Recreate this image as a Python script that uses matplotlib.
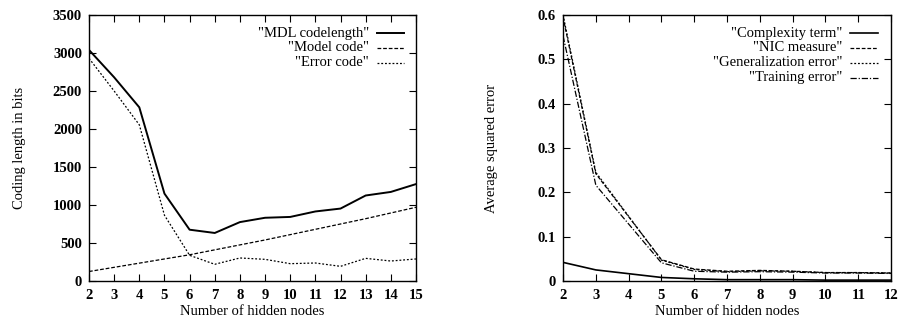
import matplotlib
matplotlib.use("Agg")
import matplotlib.pyplot as plt
from matplotlib.lines import Line2D

plt.rcParams['font.family'] = ['Liberation Serif', 'DejaVu Serif']
plt.rcParams['font.size'] = 10.5

# Left panel data
nodes_left = [2, 3, 4, 5, 6, 7, 8, 9, 10, 11, 12, 13, 14, 15]
mdl_codelength = [3040, 2680, 2285, 1150, 675, 632, 775, 832, 843, 915, 953, 1125, 1172, 1275]
model_code = [125, 180, 235, 290, 345, 410, 475, 540, 610, 680, 750, 820, 895, 970]
error_code = [2930, 2500, 2055, 865, 338, 220, 303, 285, 228, 237, 193, 298, 263, 290]

# Right panel data
nodes_right = [2, 3, 5, 6, 7, 8, 9, 10, 11, 12]
complexity_term = [0.042, 0.025, 0.008, 0.005, 0.003, 0.003, 0.003, 0.002, 0.002, 0.002]
nic_measure = [0.595, 0.242, 0.048, 0.027, 0.022, 0.024, 0.022, 0.019, 0.019, 0.018]
generalization_error = [0.600, 0.245, 0.047, 0.026, 0.021, 0.023, 0.022, 0.019, 0.019, 0.018]
training_error = [0.553, 0.216, 0.041, 0.022, 0.020, 0.021, 0.020, 0.018, 0.018, 0.017]

fig = plt.figure(figsize=(8.99, 3.21), dpi=100)
ax1 = fig.add_axes([0.099, 0.1246, 0.3637, 0.8287])
ax2 = fig.add_axes([0.6263, 0.1246, 0.3649, 0.8287])

styles_left = [
    ("\"MDL codelength\"", mdl_codelength, dict(ls='-', lw=1.4)),
    ("\"Model code\"", model_code, dict(ls=(0, (3, 1.5)), lw=0.9)),
    ("\"Error code\"", error_code, dict(ls=(0, (1.5, 1.5)), lw=0.9)),
]
styles_right = [
    ("\"Complexity term\"", complexity_term, dict(ls='-', lw=1.2)),
    ("\"NIC measure\"", nic_measure, dict(ls=(0, (3, 1.5)), lw=0.9)),
    ("\"Generalization error\"", generalization_error, dict(ls=(0, (1.5, 1.5)), lw=0.9)),
    ("\"Training error\"", training_error, dict(ls=(0, (5, 1.5, 1, 1.5)), lw=0.9)),
]

def draw(ax, x, styles, tx, lx0, lx1, rows):
    for (label, y, st), ry in zip(styles, rows):
        ax.plot(x, y, color='black', **st)
        ax.text(tx, ry, label, transform=ax.transAxes, ha='right', va='center', fontsize=10.5)
        ax.add_line(Line2D([lx0, lx1], [ry, ry], transform=ax.transAxes, color='black', **st))

draw(ax1, nodes_left, styles_left, 0.856, 0.881, 0.963, [0.932, 0.876, 0.820])
draw(ax2, nodes_right, styles_right, 0.851, 0.875, 0.960, [0.932, 0.876, 0.820, 0.764])

ax1.set_xlim(2, 15)
ax1.set_ylim(0, 3500)
ax1.set_xticks(range(2, 16))
ax1.set_yticks(range(0, 3501, 500))
ax1.set_xlabel("Number of hidden nodes", labelpad=2)
ax1.set_ylabel("Coding length in bits", labelpad=19)

ax2.set_xlim(2, 12)
ax2.set_ylim(0, 0.6)
ax2.set_xticks(range(2, 13))
ax2.set_yticks([0, 0.1, 0.2, 0.3, 0.4, 0.5, 0.6])
ax2.set_yticklabels(['0', '0.1', '0.2', '0.3', '0.4', '0.5', '0.6'])
ax2.set_xlabel("Number of hidden nodes", labelpad=2)
ax2.set_ylabel("Average squared error", labelpad=29)

for ax in (ax1, ax2):
    ax.tick_params(direction='in', top=True, right=True, length=5, width=0.8,
                   labelsize=10.5)
    ax.tick_params(axis='x', pad=6)
    ax.tick_params(axis='y', pad=5)
    for s in ax.spines.values():
        s.set_linewidth(1.0)
    for t in ax.get_xticklabels() + ax.get_yticklabels():
        t.set_fontweight('bold')

fig.savefig("out.png", dpi=100)
